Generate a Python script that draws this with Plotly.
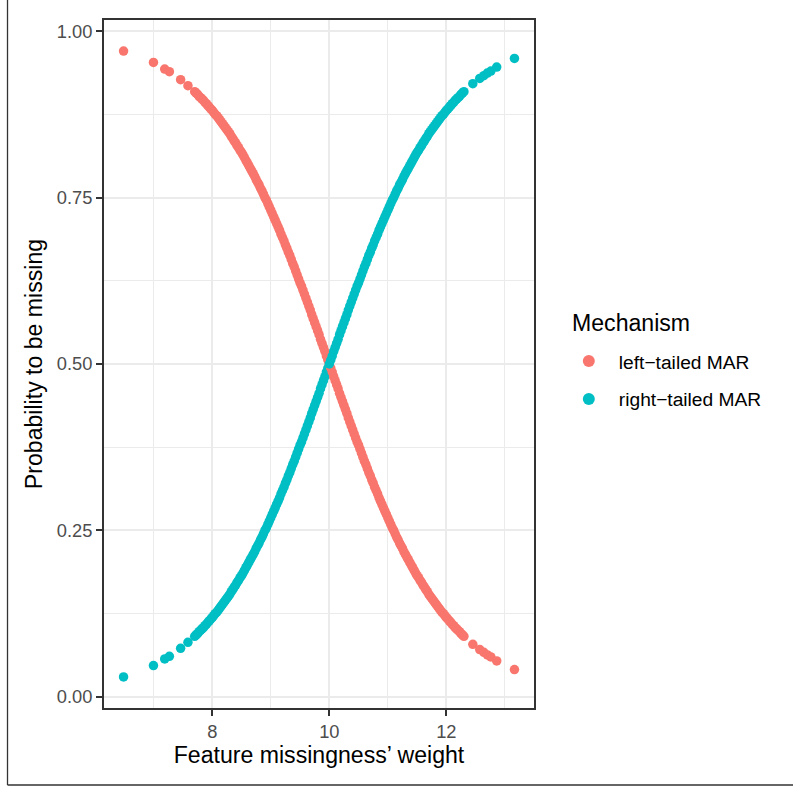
import plotly.graph_objects as go

# Feature missingness' weight (x) and probability to be missing for each mechanism
weight = [
    6.485, 6.996, 7.188, 7.268, 7.460, 7.585,
    7.700, 7.725, 7.750, 7.775, 7.800, 7.825, 7.850, 7.875,
    7.900, 7.925, 7.950, 7.975, 8.000, 8.025, 8.050, 8.075,
    8.100, 8.125, 8.150, 8.175, 8.200, 8.225, 8.250, 8.275,
    8.300, 8.325, 8.350, 8.375, 8.400, 8.425, 8.450, 8.475,
    8.500, 8.525, 8.550, 8.575, 8.600, 8.625, 8.650, 8.675,
    8.700, 8.725, 8.750, 8.775, 8.800, 8.825, 8.850, 8.875,
    8.900, 8.925, 8.950, 8.975, 9.000, 9.025, 9.050, 9.075,
    9.100, 9.125, 9.150, 9.175, 9.200, 9.225, 9.250, 9.275,
    9.300, 9.325, 9.350, 9.375, 9.400, 9.425, 9.450, 9.475,
    9.500, 9.525, 9.550, 9.575, 9.600, 9.625, 9.650, 9.675,
    9.700, 9.725, 9.750, 9.775, 9.800, 9.825, 9.850, 9.875,
    9.900, 9.925, 9.950, 9.975, 10.000, 10.025, 10.050, 10.075,
    10.100, 10.125, 10.150, 10.175, 10.200, 10.225, 10.250, 10.275,
    10.300, 10.325, 10.350, 10.375, 10.400, 10.425, 10.450, 10.475,
    10.500, 10.525, 10.550, 10.575, 10.600, 10.625, 10.650, 10.675,
    10.700, 10.725, 10.750, 10.775, 10.800, 10.825, 10.850, 10.875,
    10.900, 10.925, 10.950, 10.975, 11.000, 11.025, 11.050, 11.075,
    11.100, 11.125, 11.150, 11.175, 11.200, 11.225, 11.250, 11.275,
    11.300, 11.325, 11.350, 11.375, 11.400, 11.425, 11.450, 11.475,
    11.500, 11.525, 11.550, 11.575, 11.600, 11.625, 11.650, 11.675,
    11.700, 11.725, 11.750, 11.775, 11.800, 11.825, 11.850, 11.875,
    11.900, 11.925, 11.950, 11.975, 12.000, 12.025, 12.050, 12.075,
    12.100, 12.125, 12.150, 12.175, 12.200, 12.225, 12.250, 12.275,
    12.300,
    12.452, 12.570, 12.640, 12.700, 12.760, 12.860, 13.163,
]

p_left = [
    0.970, 0.953, 0.943, 0.939, 0.927, 0.918,
    0.909, 0.907, 0.905, 0.902, 0.900, 0.898, 0.896, 0.893,
    0.891, 0.888, 0.886, 0.883, 0.881, 0.878, 0.875, 0.873,
    0.870, 0.867, 0.864, 0.861, 0.858, 0.855, 0.852, 0.849,
    0.846, 0.842, 0.839, 0.835, 0.832, 0.828, 0.825, 0.821,
    0.818, 0.814, 0.810, 0.806, 0.802, 0.798, 0.794, 0.790,
    0.786, 0.782, 0.777, 0.773, 0.769, 0.764, 0.760, 0.755,
    0.750, 0.746, 0.741, 0.736, 0.731, 0.726, 0.721, 0.716,
    0.711, 0.706, 0.701, 0.695, 0.690, 0.685, 0.679, 0.674,
    0.668, 0.663, 0.657, 0.651, 0.646, 0.640, 0.634, 0.628,
    0.622, 0.617, 0.611, 0.605, 0.599, 0.593, 0.587, 0.581,
    0.574, 0.568, 0.562, 0.556, 0.550, 0.544, 0.537, 0.531,
    0.525, 0.519, 0.512, 0.506, 0.500, 0.494, 0.488, 0.481,
    0.475, 0.469, 0.463, 0.456, 0.450, 0.444, 0.438, 0.432,
    0.426, 0.419, 0.413, 0.407, 0.401, 0.395, 0.389, 0.383,
    0.378, 0.372, 0.366, 0.360, 0.354, 0.349, 0.343, 0.337,
    0.332, 0.326, 0.321, 0.315, 0.310, 0.305, 0.299, 0.294,
    0.289, 0.284, 0.279, 0.274, 0.269, 0.264, 0.259, 0.254,
    0.250, 0.245, 0.240, 0.236, 0.231, 0.227, 0.223, 0.218,
    0.214, 0.210, 0.206, 0.202, 0.198, 0.194, 0.190, 0.186,
    0.182, 0.179, 0.175, 0.172, 0.168, 0.165, 0.161, 0.158,
    0.154, 0.151, 0.148, 0.145, 0.142, 0.139, 0.136, 0.133,
    0.130, 0.127, 0.125, 0.122, 0.119, 0.117, 0.114, 0.112,
    0.109, 0.107, 0.104, 0.102, 0.100, 0.098, 0.095, 0.093,
    0.091,
    0.079, 0.071, 0.067, 0.063, 0.060, 0.054, 0.041,
]

p_right = [
    0.030, 0.047, 0.057, 0.061, 0.073, 0.082,
    0.091, 0.093, 0.095, 0.098, 0.100, 0.102, 0.104, 0.107,
    0.109, 0.112, 0.114, 0.117, 0.119, 0.122, 0.125, 0.127,
    0.130, 0.133, 0.136, 0.139, 0.142, 0.145, 0.148, 0.151,
    0.154, 0.158, 0.161, 0.165, 0.168, 0.172, 0.175, 0.179,
    0.182, 0.186, 0.190, 0.194, 0.198, 0.202, 0.206, 0.210,
    0.214, 0.218, 0.223, 0.227, 0.231, 0.236, 0.240, 0.245,
    0.250, 0.254, 0.259, 0.264, 0.269, 0.274, 0.279, 0.284,
    0.289, 0.294, 0.299, 0.305, 0.310, 0.315, 0.321, 0.326,
    0.332, 0.337, 0.343, 0.349, 0.354, 0.360, 0.366, 0.372,
    0.378, 0.383, 0.389, 0.395, 0.401, 0.407, 0.413, 0.419,
    0.426, 0.432, 0.438, 0.444, 0.450, 0.456, 0.463, 0.469,
    0.475, 0.481, 0.488, 0.494, 0.500, 0.506, 0.512, 0.519,
    0.525, 0.531, 0.537, 0.544, 0.550, 0.556, 0.562, 0.568,
    0.574, 0.581, 0.587, 0.593, 0.599, 0.605, 0.611, 0.617,
    0.622, 0.628, 0.634, 0.640, 0.646, 0.651, 0.657, 0.663,
    0.668, 0.674, 0.679, 0.685, 0.690, 0.695, 0.701, 0.706,
    0.711, 0.716, 0.721, 0.726, 0.731, 0.736, 0.741, 0.746,
    0.750, 0.755, 0.760, 0.764, 0.769, 0.773, 0.777, 0.782,
    0.786, 0.790, 0.794, 0.798, 0.802, 0.806, 0.810, 0.814,
    0.818, 0.821, 0.825, 0.828, 0.832, 0.835, 0.839, 0.842,
    0.846, 0.849, 0.852, 0.855, 0.858, 0.861, 0.864, 0.867,
    0.870, 0.873, 0.875, 0.878, 0.881, 0.883, 0.886, 0.888,
    0.891, 0.893, 0.896, 0.898, 0.900, 0.902, 0.905, 0.907,
    0.909,
    0.921, 0.929, 0.933, 0.937, 0.940, 0.946, 0.959,
]

series_names = ["left\u2212tailed MAR", "right\u2212tailed MAR"]
series_colors = ["#F8766D", "#00BFC4"]
x_ticks = [8, 10, 12]
y_ticks = [0.0, 0.25, 0.50, 0.75, 1.00]
y_ticklabels = ["0.00", "0.25", "0.50", "0.75", "1.00"]
legend_title = "Mechanism"

assert len(weight) == len(p_left) == len(p_right)

FONT = "Liberation Sans, Arial, Helvetica, sans-serif"
MSIZE = 9.5

low = [i for i, w in enumerate(weight) if w < 10]
high = [i for i, w in enumerate(weight) if w >= 10]

fig = go.Figure()
# draw order mimics the interleaved ggplot drawing at the crossing
order = [(0, low, True), (1, low, True), (0, high, False), (1, high, False)]
for s, idx, show in order:
    ys = p_left if s == 0 else p_right
    fig.add_trace(go.Scatter(
        x=[weight[i] for i in idx], y=[ys[i] for i in idx],
        mode="markers", name=series_names[s], legendgroup=series_names[s],
        showlegend=show, legendrank=s + 1,
        marker=dict(color=series_colors[s], size=MSIZE, line=dict(width=0)),
    ))

axis_common = dict(
    showgrid=True, gridcolor="#EBEBEB", gridwidth=2.2,
    zeroline=False, showline=True, mirror=True,
    linecolor="#333333", linewidth=2,
    ticks="outside", ticklen=6, tickwidth=2, tickcolor="#333333",
    tickfont=dict(family=FONT, size=18.3, color="#4D4D4D"),
)

fig.update_xaxes(
    range=[6.151, 13.497], tickvals=x_ticks, ticktext=[str(v) for v in x_ticks],
    minor=dict(dtick=1, tick0=7, showgrid=True, gridcolor="#EBEBEB", gridwidth=1.1, ticks=""),
    title=dict(text="Feature missingness\u2019 weight", font=dict(family=FONT, size=23.1, color="black"), standoff=6),
    **axis_common,
)
fig.update_yaxes(
    range=[-0.0167, 1.0167], tickvals=y_ticks, ticktext=y_ticklabels,
    minor=dict(dtick=0.125, tick0=0.125, showgrid=True, gridcolor="#EBEBEB", gridwidth=1.1, ticks=""),
    title=dict(text="Probability to be missing", font=dict(family=FONT, size=23.1, color="black"), standoff=8),
    **axis_common,
)

fig.update_layout(
    width=793, height=787,
    margin=dict(l=104, r=259, t=20, b=79, pad=0),
    paper_bgcolor="white", plot_bgcolor="white",
    font=dict(family=FONT, color="black"),
    legend=dict(
        font=dict(family=FONT, size=19.2, color="black"),
        x=1.0577, xanchor="left", y=0.4767, yanchor="middle",
        bgcolor="rgba(0,0,0,0)", borderwidth=0, tracegroupgap=10,
        itemsizing="constant", itemwidth=50,
    ),
    annotations=[
        dict(text=legend_title, xref="paper", yref="paper", x=1.0837, y=0.5596,
             xanchor="left", yanchor="middle", showarrow=False,
             font=dict(family=FONT, size=23.1, color="black")),
    ],
    shapes=[
        dict(type="line", xref="paper", yref="paper", x0=-0.2244, x1=-0.2244, y0=-0.1119, y1=1.05,
             line=dict(color="#333333", width=1.3)),
        dict(type="line", xref="paper", yref="paper", x0=-0.2244, x1=1.65, y0=-0.1119, y1=-0.1119,
             line=dict(color="#333333", width=1.3)),
    ],
)

fig.write_html("out.html")
